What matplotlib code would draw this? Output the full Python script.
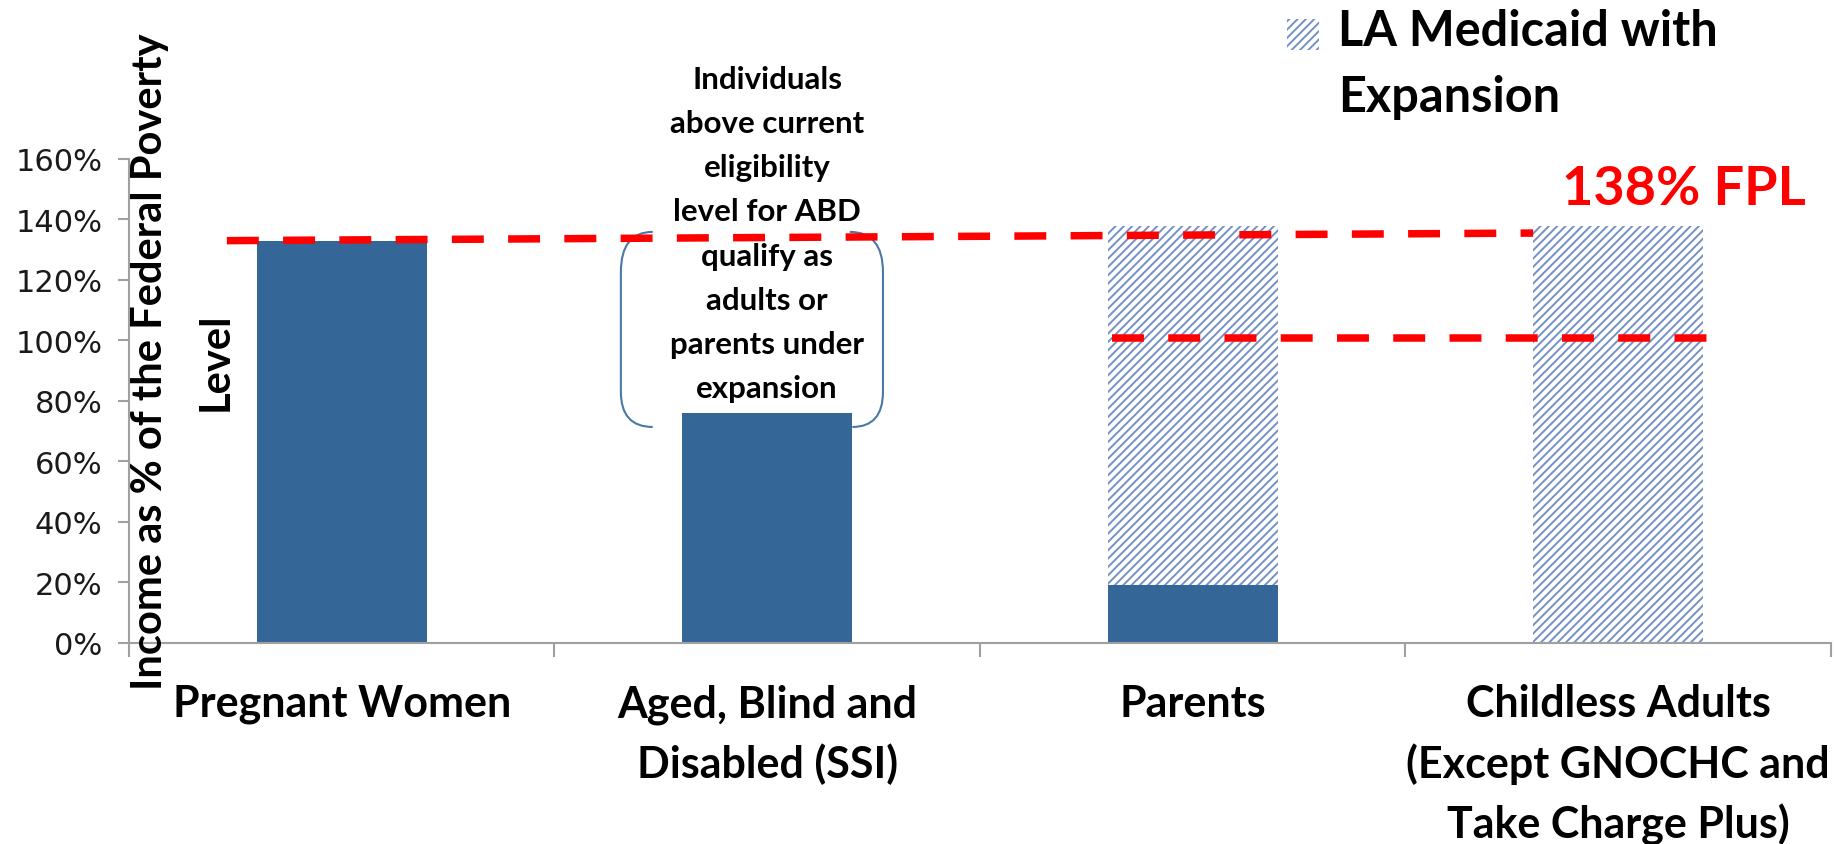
import matplotlib
matplotlib.use("Agg")
import matplotlib.pyplot as plt
from matplotlib.patches import Rectangle, PathPatch
from matplotlib.path import Path

# ---- data ----
categories = ["Pregnant Women", "Aged, Blind and\nDisabled (SSI)", "Parents",
              "Childless Adults\n(Except GNOCHC and\nTake Charge Plus)"]
current_eligibility = [133, 76, 19, 0]          # % FPL, solid bars
expansion_eligibility = [0, 0, 138, 138]        # % FPL, hatched (LA Medicaid with Expansion)
yticks = [0, 20, 40, 60, 80, 100, 120, 140, 160]
ytick_labels = [f"{v}%" for v in yticks]
legend_label = "LA Medicaid with\nExpansion"
fpl_label = "138% FPL"
ylabel = "Income as % of the Federal Poverty\nLevel"
note = ("Individuals\nabove current\neligibility\nlevel for ABD\nqualify as\n"
        "adults or\nparents under\nexpansion")
# red dashed reference lines (x span in category units, y in % FPL)
upper_line_x = [-0.27, 2.80]
upper_line_y = [133.0, 135.5]
lower_line_x = [1.81, 3.21]
lower_line_y = [100.7, 100.7]

SOLID = "#346798"
HATCH = "#7391c6"
GRAY = "#a0a0a0"
FONT = "Lato"

plt.rcParams["hatch.linewidth"] = 1.4
plt.rcParams["lines.scale_dashes"] = False

fig = plt.figure(figsize=(18.35, 8.45), dpi=100)
ax = fig.add_axes([0.0703, 0.2379, 0.9275, 0.5728])

x = list(range(len(categories)))
width = 0.4
ax.bar(x, current_eligibility, width, color=SOLID, linewidth=0, zorder=2)
hatch_heights = [max(e - c, 0) for e, c in zip(expansion_eligibility, current_eligibility)]
ax.bar(x, hatch_heights, width, bottom=current_eligibility, facecolor="white",
       edgecolor=HATCH, hatch="////", linewidth=0, zorder=2)

# dashed lines
for lx, ly in ((upper_line_x, upper_line_y), (lower_line_x, lower_line_y)):
    ax.plot(lx, ly, color="#ff0000", linewidth=5.4, dashes=(23, 17.5),
            solid_capstyle="butt", dash_capstyle="butt", zorder=4, clip_on=False)

# bracket around the note
c = 1.0
verts = [(c - 0.269, 135.9), (c - 0.344, 135.9), (c - 0.344, 122.6),
         (c - 0.344, 83.0), (c - 0.344, 71.4), (c - 0.269, 71.4),
         (c + 0.194, 135.9), (c + 0.272, 135.9), (c + 0.272, 122.6),
         (c + 0.272, 83.0), (c + 0.272, 71.4), (c + 0.200, 71.4)]
codes = [Path.MOVETO, Path.CURVE3, Path.CURVE3, Path.LINETO, Path.CURVE3, Path.CURVE3,
         Path.MOVETO, Path.CURVE3, Path.CURVE3, Path.LINETO, Path.CURVE3, Path.CURVE3]
ax.add_patch(PathPatch(Path(verts, codes), facecolor="none", edgecolor="#4a78a8",
                       linewidth=1.5, zorder=3, clip_on=False))

ax.text(1.0, 191, note, ha="center", va="top", fontsize=22.5, fontweight="bold",
        family=FONT, linespacing=1.70, zorder=5, clip_on=False)

# axes
ax.set_xlim(-0.5, len(categories) - 0.5)
ax.set_ylim(0, 160)
ax.set_yticks(yticks)
ax.set_yticklabels(ytick_labels, fontsize=22, family="DejaVu Sans", color="#1a1a1a")
ax.tick_params(axis="y", direction="out", length=8, width=1.5, color=GRAY, pad=11)
ax.set_xticks([i - 0.5 for i in range(len(categories) + 1)])
ax.set_xticklabels([])
ax.tick_params(axis="x", which="major", direction="out", length=10, width=1.5, color=GRAY)
ax.set_xticks(x, minor=True)
ax.set_xticklabels(categories, minor=True, fontsize=31, fontweight="bold", family=FONT,
                   linespacing=1.55)
ax.tick_params(axis="x", which="minor", length=0, pad=29)
for s in ("top", "right"):
    ax.spines[s].set_visible(False)
for s in ("left", "bottom"):
    ax.spines[s].set_color(GRAY)
    ax.spines[s].set_linewidth(1.5)

fig.text(0.0995, 0.572, ylabel, rotation=90, ha="center", va="center",
         multialignment="center", fontsize=30, fontweight="bold", family=FONT,
         linespacing=1.88, zorder=10)

# legend
fig.patches.append(Rectangle((0.7014, 0.9396), 0.01744, 0.0367, transform=fig.transFigure,
                             facecolor="white", edgecolor=HATCH, hatch="////", linewidth=0))
fig.text(0.729, 0.8675, legend_label, ha="left", va="baseline", fontsize=35,
         fontweight="bold", family=FONT, linespacing=1.58)
fig.text(0.851, 0.7574, fpl_label, ha="left", va="baseline", fontsize=39,
         fontweight="bold", family=FONT, color="#ff0000")

fig.savefig("out.png", dpi=100)
